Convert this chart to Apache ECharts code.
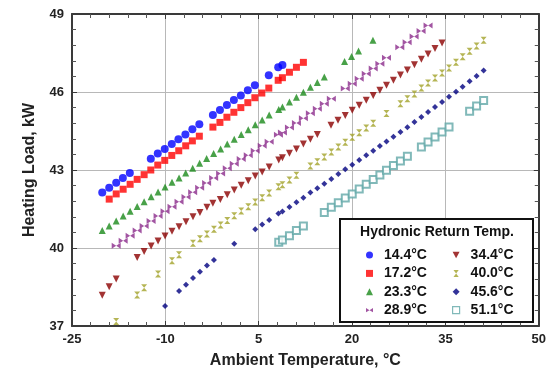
<!DOCTYPE html>
<html>
<head>
<meta charset="utf-8">
<script src="https://cdn.jsdelivr.net/npm/echarts@6/dist/echarts.min.js"></script>
<style>
html,body{margin:0;padding:0;background:#fff;}
#chart{width:549px;height:375px;}
</style>
</head>
<body>
<div id="chart"></div>
<script>
// ---- Axis ticks (real units) ----
const xTicks = [-25, -10, 5, 20, 35, 50];
const yTicks = [37, 40, 43, 46, 49];
const xMin = -25, yMin = 37;

// ---- Series names ----
const seriesNames = ['14.4°C','17.2°C','23.3°C','28.9°C','34.4°C','40.0°C','45.6°C','51.1°C'];
const legendTitle = 'Hydronic Return Temp.';

// ---- Data: ambient temperature (°C) and heating load (kW) ----
const t144 = [-20.14,-19.02,-17.90,-16.83,-15.71,-12.34,-11.22,-10.10,-8.97,-7.90,-6.78,-5.66,-4.54,-2.36,-1.23,-0.11,1.01,2.13,3.25,4.38,6.62,8.13,8.81];
const l144 = [42.13,42.32,42.51,42.69,42.88,43.43,43.63,43.81,44.00,44.18,44.37,44.57,44.76,45.12,45.31,45.50,45.69,45.87,46.07,46.26,46.64,46.95,47.04];

const t172 = [-19.02,-17.90,-16.78,-15.66,-14.53,-13.41,-12.34,-11.22,-10.10,-8.97,-7.85,-6.73,-5.66,-4.54,-2.36,-1.23,-0.11,1.01,2.13,3.25,4.38,5.50,6.62,8.13,8.81,9.94,11.06,12.18];
const l172 = [41.88,42.08,42.26,42.45,42.64,42.82,43.00,43.19,43.37,43.56,43.74,43.93,44.12,44.30,44.65,44.83,45.03,45.22,45.40,45.59,45.78,45.96,46.15,46.45,46.55,46.76,46.95,47.14];

const t233 = [-20.14,-19.02,-17.90,-16.78,-15.66,-14.53,-13.41,-12.29,-11.17,-10.05,-8.93,-7.80,-6.73,-5.61,-4.49,-3.37,-2.24,-1.12,-0.05,1.07,2.19,3.32,4.44,5.56,6.68,8.22,8.81,9.94,11.06,12.18,13.30,14.42,15.54,18.80,19.92,21.04,23.35];
const l233 = [40.67,40.85,41.04,41.23,41.41,41.60,41.78,41.97,42.15,42.35,42.53,42.69,42.88,43.07,43.26,43.44,43.63,43.81,44.00,44.18,44.37,44.55,44.74,44.92,45.12,45.33,45.42,45.62,45.80,45.99,46.18,46.37,46.58,47.17,47.37,47.58,47.99];

const t289 = [-17.90,-16.78,-15.66,-14.53,-13.41,-12.29,-11.17,-10.05,-8.93,-7.80,-6.68,-5.61,-4.49,-3.37,-2.24,-1.12,-0.05,1.07,2.19,3.32,4.44,5.56,6.68,8.17,8.81,9.94,11.06,12.18,13.30,14.42,15.54,16.67,18.91,20.03,21.15,22.28,23.40,24.47,25.53,27.67,28.85,29.97,31.09,32.21];
const l289 = [40.09,40.28,40.47,40.67,40.85,41.04,41.23,41.41,41.59,41.78,41.96,42.14,42.32,42.50,42.69,42.87,43.07,43.24,43.42,43.57,43.74,43.93,44.09,44.36,44.44,44.63,44.81,44.99,45.18,45.36,45.55,45.74,46.13,46.32,46.51,46.70,46.90,47.09,47.32,47.72,47.91,48.13,48.35,48.56];

const t344 = [-20.14,-19.02,-17.90,-14.53,-13.41,-12.29,-11.17,-10.05,-8.93,-7.80,-6.68,-5.56,-4.44,-3.32,-2.36,-1.17,-0.05,1.07,2.19,3.32,4.44,5.56,6.68,8.22,8.81,9.94,11.06,12.18,13.30,14.42,16.62,17.74,18.91,20.03,21.15,22.28,23.40,24.47,25.53,26.65,27.77,28.89,30.02,31.14,32.21,33.33,34.46];
const l344 = [38.18,38.51,38.81,39.63,39.87,40.08,40.27,40.46,40.64,40.82,41.01,41.20,41.37,41.57,41.72,41.87,42.05,42.23,42.41,42.59,42.77,42.92,43.12,43.38,43.47,43.64,43.81,44.00,44.18,44.37,44.72,44.91,45.10,45.30,45.49,45.68,45.87,46.07,46.26,46.45,46.65,46.85,47.05,47.26,47.46,47.67,47.88];

const t400 = [-17.90,-14.53,-13.41,-11.17,-8.93,-7.80,-5.56,-4.44,-3.32,-2.19,-1.12,-0.05,1.07,2.19,3.32,4.44,5.56,6.68,8.17,8.81,9.94,11.06,13.30,14.42,15.54,16.67,17.79,18.91,20.03,21.15,22.28,23.40,25.53,27.77,28.89,30.02,31.14,32.21,33.33,34.46,35.58,36.70,37.77,38.89,40.01,41.14];
const l400 = [37.17,38.19,38.47,39.00,39.51,39.74,40.18,40.36,40.54,40.72,40.88,41.06,41.24,41.42,41.59,41.77,41.93,42.12,42.36,42.43,42.62,42.80,43.15,43.32,43.50,43.69,43.88,44.07,44.26,44.43,44.62,44.80,45.17,45.55,45.74,45.92,46.15,46.35,46.54,46.73,46.92,47.14,47.36,47.57,47.77,47.99];

const t456 = [-10.05,-7.80,-6.68,-5.56,-4.44,-3.32,-2.19,1.07,4.44,5.56,6.68,8.17,8.81,9.94,11.06,12.18,13.30,14.42,15.54,16.67,17.79,18.91,20.03,21.15,22.28,23.40,24.47,25.53,26.65,27.77,28.89,30.02,31.14,32.21,33.33,34.46,35.58,36.70,37.77,38.89,40.01,41.14];
const l456 = [37.77,38.35,38.59,38.85,39.09,39.33,39.54,40.16,40.72,40.90,41.08,41.33,41.40,41.58,41.76,41.93,42.13,42.30,42.47,42.65,42.85,43.03,43.20,43.38,43.57,43.74,43.92,44.10,44.28,44.46,44.64,44.85,45.04,45.23,45.42,45.62,45.82,46.01,46.20,46.41,46.62,46.83];

const t511 = [8.22,8.81,9.94,11.06,12.18,15.54,16.67,17.79,18.91,20.03,21.15,22.28,23.40,24.47,25.53,26.65,27.77,28.89,31.14,32.21,33.33,34.46,35.58,38.89,40.01,41.14];
const l511 = [40.22,40.31,40.47,40.67,40.85,41.37,41.57,41.74,41.92,42.08,42.27,42.45,42.63,42.81,42.99,43.17,43.35,43.53,43.88,44.08,44.27,44.46,44.65,45.26,45.46,45.67];

// Axes are offset so that their minimum is a multiple of the tick interval.
const xStep = xTicks[1] - xTicks[0];
const yStep = yTicks[1] - yTicks[0];
const xMax = xTicks[xTicks.length - 1] - xMin;
const yMax = yTicks[yTicks.length - 1] - yMin;
function pts(ts, ls) { return ts.map((t, i) => [t - xMin, ls[i] - yMin]); }

const FONT = "'Liberation Sans', Arial, sans-serif";
const styles = [
  { symbol: 'circle', size: 8, color: '#0000ff' },
  { symbol: 'rect', size: 7, color: '#ff0000' },
  { symbol: 'triangle', size: 7, color: '#1a8a1a' },
  { symbol: 'path://M0,0L5,3L0,6ZM10,0L5,3L10,6Z', size: [9, 6], color: '#8b2a8b' },
  { symbol: 'path://M0,0L10,0L5,9Z', size: [7, 7], color: '#8b0000' },
  { symbol: 'path://M0,0L6,0L3,4ZM0,8L6,8L3,4Z', size: [6, 7], color: '#a3a32a' },
  { symbol: 'diamond', size: 6, color: '#000080' },
  { symbol: 'emptyRect', size: 7, color: '#62a8a8' }
];
const dataSets = [pts(t144,l144), pts(t172,l172), pts(t233,l233), pts(t289,l289), pts(t344,l344), pts(t400,l400), pts(t456,l456), pts(t511,l511)];

const series = seriesNames.map((name, i) => ({
  name: name,
  type: 'scatter',
  symbol: styles[i].symbol,
  symbolSize: styles[i].size,
  itemStyle: styles[i].symbol === 'emptyRect'
    ? { color: styles[i].color, borderWidth: 1.2 }
    : { color: styles[i].color },
  data: dataSets[i],
  xAxisIndex: 0, yAxisIndex: 0,
  animation: false
}));

const axisLineStyle = { color: '#3a3a3a', width: 2 };
function mkX(main) {
  return {
    type: 'value', min: 0, max: xMax, interval: xStep,
    position: main ? 'bottom' : 'top',
    axisLine: { show: true, onZero: false, lineStyle: axisLineStyle },
    axisTick: { show: true, inside: true, length: 5, lineStyle: { color: '#3a3a3a' } },
    minorTick: { show: true, splitNumber: 5, length: 4, lineStyle: { color: '#555' } },
    splitLine: { show: main, lineStyle: { color: '#b8b8b8', width: 1 } },
    axisLabel: { show: main, margin: 7, color: '#222', fontFamily: FONT, fontWeight: 'bold', fontSize: 13,
      formatter: v => String(Math.round(v + xMin)) },
    name: main ? 'Ambient Temperature, °C' : '',
    nameLocation: 'middle', nameGap: 27,
    nameTextStyle: { color: '#222', fontFamily: FONT, fontWeight: 'bold', fontSize: 16 }
  };
}
function mkY(main) {
  return {
    type: 'value', min: 0, max: yMax, interval: yStep,
    position: main ? 'left' : 'right',
    axisLine: { show: true, onZero: false, lineStyle: axisLineStyle },
    axisTick: { show: true, inside: true, length: 5, lineStyle: { color: '#3a3a3a' } },
    minorTick: { show: true, splitNumber: 5, length: 4, lineStyle: { color: '#555' } },
    splitLine: { show: main, lineStyle: { color: '#b8b8b8', width: 1 } },
    axisLabel: { show: main, margin: 8, color: '#222', fontFamily: FONT, fontWeight: 'bold', fontSize: 13,
      formatter: v => String(Math.round(v + yMin)) },
    name: main ? 'Heating Load, kW' : '',
    nameLocation: 'middle', nameGap: 34, nameRotate: 90,
    nameTextStyle: { color: '#222', fontFamily: FONT, fontWeight: 'bold', fontSize: 16 }
  };
}

function legendData(names, offset) {
  return names.map((n, k) => {
    const s = styles[offset + k];
    if (s.symbol === 'emptyRect') {
      return { name: n, icon: 'path://M0,0L10,0L10,10L0,10Z',
               itemStyle: { color: '#fff', borderColor: s.color, borderWidth: 1.2 } };
    }
    return { name: n, icon: s.symbol };
  });
}
const legendCommon = {
  orient: 'vertical', top: 243, itemWidth: 7, itemHeight: 7, itemGap: 4.4,
  textStyle: { color: '#111', fontFamily: FONT, fontWeight: 'bold', fontSize: 14, lineHeight: 14,
               padding: [0, 0, 0, 6] },
  selectedMode: false, z: 10
};

const chart = echarts.init(document.getElementById('chart'), null, { renderer: 'canvas' });
chart.setOption({
  animation: false,
  backgroundColor: '#fff',
  grid: { left: 72, top: 14, right: 9, bottom: 49, containLabel: false },
  xAxis: [mkX(true), mkX(false)],
  yAxis: [mkY(true), mkY(false)],
  legend: [
    Object.assign({ left: 361, data: legendData(seriesNames.slice(0, 4), 0) }, legendCommon),
    Object.assign({ left: 447, data: legendData(seriesNames.slice(4), 4) }, legendCommon)
  ],
  graphic: [
    { type: 'rect', x: 340, y: 219, z: 5,
      shape: { width: 193, height: 103 },
      style: { fill: '#fff', stroke: '#111', lineWidth: 2 } },
    { type: 'text', x: 437, y: 225, z: 6,
      style: { text: legendTitle, fill: '#111', align: 'center', verticalAlign: 'top',
               fontSize: 14, fontWeight: 'bold', fontFamily: FONT } }
  ],
  series: series
});
</script>
</body>
</html>
